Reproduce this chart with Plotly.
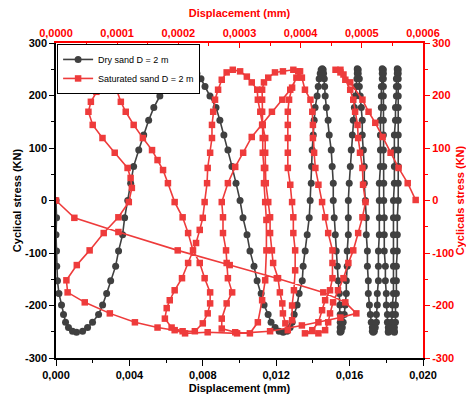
import plotly.graph_objects as go

# Dry sand: displacement in micrometres (bottom axis), cyclic stress in kN
dry_disp_um = [
    0.00, 0.03, 0.00, 0.03, 0.04, 0.08, 0.16, 0.30, 0.41, 0.52, 0.68, 0.90, 1.12,
    1.45, 1.72, 1.99, 2.32, 2.54, 2.76, 2.98, 3.25, 3.41, 3.63, 3.74, 3.91, 4.07, 4.23, 4.51, 4.78, 5.05, 5.33, 5.66, 5.98, 6.31, 6.64, 6.97, 7.19,
    7.46, 7.68, 7.90, 8.12, 8.39, 8.72, 8.93, 9.15, 9.37, 9.59, 9.81, 10.03, 10.19, 10.41, 10.57, 10.79, 10.96, 11.18, 11.34, 11.56, 11.72, 11.94, 12.16, 12.38,
    12.59, 12.76, 12.87, 12.98, 13.14, 13.25, 13.42, 13.47, 13.58, 13.69, 13.80, 13.85, 13.91, 13.93, 13.96, 14.02, 14.07, 14.12, 14.23, 14.29, 14.34, 14.40, 14.45, 14.51,
    14.56, 14.58, 14.62, 14.64, 14.67, 14.73, 14.83, 14.89, 15.00, 15.05, 15.11, 15.11, 15.16, 15.22, 15.27, 15.33, 15.38, 15.44, 15.47, 15.49, 15.49, 15.49, 15.49, 15.49,
    15.54, 15.60, 15.65, 15.71, 15.76, 15.82, 15.82, 15.87, 15.87, 15.93, 15.93, 15.93, 15.98, 16.04, 16.09, 16.15, 16.20, 16.26, 16.31, 16.36, 16.40, 16.42, 16.42, 16.42,
    16.47, 16.47, 16.53, 16.53, 16.58, 16.64, 16.69, 16.69, 16.75, 16.80, 16.80, 16.86, 16.91, 16.91, 16.97, 16.97, 17.02, 17.02, 17.08, 17.13, 17.18, 17.24, 17.24, 17.29,
    17.35, 17.40, 17.46, 17.46, 17.51, 17.51, 17.57, 17.57, 17.57, 17.62, 17.62, 17.62, 17.62, 17.68, 17.68, 17.68, 17.68, 17.73, 17.73, 17.73, 17.78, 17.78, 17.78, 17.78,
    17.84, 17.84, 17.84, 17.84, 17.84, 17.84, 17.84, 17.84, 17.84, 17.86, 17.86, 17.86, 17.89, 17.89, 17.89, 17.95, 17.95, 18.00, 18.00, 18.06, 18.06, 18.11, 18.11, 18.11,
    18.17, 18.22, 18.28, 18.33, 18.33, 18.39, 18.39, 18.39, 18.39, 18.39, 18.39, 18.39, 18.44, 18.44, 18.44, 18.44, 18.50, 18.50, 18.55, 18.55, 18.55, 18.60, 18.60, 18.60,
    18.65, 18.65, 18.65, 18.65, 18.65, 18.65, 18.65, 18.65, 18.65, 18.65, 18.65, 18.65, 18.60, 18.60, 18.60, 18.55, 18.55, 18.55, 18.50, 18.50, 18.50, 18.44, 18.44, 18.44,
]
dry_stress = [
    0, -33, -65, -96, -125, -153, -177, -199, -217, -232, -242, -249, -251,
    -249, -242, -232, -217, -199, -177, -153, -125, -96, -65, -33, 0, 33, 65, 96, 125, 153, 177, 199, 217, 232, 242, 249, 251,
    249, 242, 232, 217, 199, 177, 153, 125, 96, 65, 33, 0, -33, -65, -96, -125, -153, -177, -199, -217, -232, -242, -249, -251,
    -249, -242, -232, -217, -199, -177, -153, -125, -96, -65, -33, 0, 33, 65, 96, 125, 153, 177, 199, 217, 232, 242, 249, 251,
    249, 242, 232, 217, 199, 177, 153, 125, 96, 65, 33, 0, -33, -65, -96, -125, -153, -177, -199, -217, -232, -242, -249, -251,
    -249, -242, -232, -217, -199, -177, -153, -125, -96, -65, -33, 0, 33, 65, 96, 125, 153, 177, 199, 217, 232, 242, 249, 251,
    249, 242, 232, 217, 199, 177, 153, 125, 96, 65, 33, 0, -33, -65, -96, -125, -153, -177, -199, -217, -232, -242, -249, -251,
    -249, -242, -232, -217, -199, -177, -153, -125, -96, -65, -33, 0, 33, 65, 96, 125, 153, 177, 199, 217, 232, 242, 249, 251,
    249, 242, 232, 217, 199, 177, 153, 125, 96, 65, 33, 0, -33, -65, -96, -125, -153, -177, -199, -217, -232, -242, -249, -251,
    -249, -242, -232, -217, -199, -177, -153, -125, -96, -65, -33, 0, 33, 65, 96, 125, 153, 177, 199, 217, 232, 242, 249, 251,
    249, 242, 232, 217, 199, 177, 153, 125, 96, 65, 33, 0, -33, -65, -96, -125, -153, -177, -199, -217, -232, -242, -249, -251,
]

# Saturated sand: displacement in nanometres (top axis), cyclic stress in kN
sat_disp_nm = [
    0, 30, 102, 199, 284, 361, 437, 473, 491,
    465, 402, 350, 296, 248, 211, 194, 166, 129, 88, 47, 19,
    17, 34, 55, 78, 102, 119, 124, 122, 117, 96, 76, 60, 53, 57, 66, 76, 81, 88, 96,
    99, 106, 114, 127, 142, 157, 166, 175, 183, 194, 207, 216, 224, 235, 243, 252, 252, 248, 240, 227, 207, 189, 178,
    181, 186, 194, 206, 216, 229, 235, 240, 243, 247, 248, 252, 255, 255, 257, 260, 265, 271, 279, 289,
    301, 312, 320, 329, 330, 334, 338, 342, 342, 342, 343, 347, 350, 350, 353, 355, 363, 366, 370, 371, 375, 379,
    386, 386, 389, 391, 391, 388, 388, 386, 383, 379, 379, 379, 379, 379, 381, 386, 393, 399,
    383, 370, 353, 337, 320, 306, 293, 281, 271, 273, 273, 278, 279, 281, 288, 279, 271, 271,
    293, 317, 330, 337, 342, 344, 344, 342, 340, 340, 338, 338, 338, 337, 337, 337, 340, 347, 358, 371, 388, 396, 402,
    407, 416, 419, 420, 420, 422, 424, 429, 435, 440, 445, 452, 452, 452, 448, 440, 435, 429, 419, 407,
    429, 440, 445, 448, 453, 461, 470, 478, 486, 494, 501, 506, 502, 501, 497, 494, 493, 489, 486, 481, 473, 465, 457,
    465, 470, 481, 501, 511, 522, 534, 547, 560, 575, 588,
]
sat_stress = [
    0, -33, -60, -95, -123, -148, -175, -194, -215,
    -223, -238, -249, -253, -251, -253, -247, -242, -232, -215, -194, -175,
    -152, -123, -95, -62, -32, -3, 24, 43, 62, 91, 119, 144, 169, 188, 207, 226, 236, 244, 244,
    211, 188, 169, 144, 119, 96, 77, 58, 33, -3, -32, -62, -95, -119, -148, -175, -196, -215, -234, -249, -249, -242, -225,
    -205, -190, -171, -148, -119, -81, -56, -33, -3, 33, 62, 91, 119, 144, 169, 192, 211, 230, 244, 249,
    246, 236, 225, 211, 192, 169, 144, 119, 91, 62, 33, -3, -32, -62, -95, -119, -148, -175, -196, -215, -234, -247,
    -228, -200, -171, -133, -95, -62, -32, -3, 30, 62, 91, 119, 144, 169, 192, 215, 234, 246,
    211, 192, 169, 144, 121, 91, 64, 33, -3, -32, -62, -95, -119, -148, -175, -196, -225, -244,
    -251, -253, -232, -190, -152, -95, -37, -3, 33, 62, 91, 119, 144, 169, 192, 211, 225, 234, 244, 246, 249, 246, 234,
    211, 192, 169, 144, 119, 91, 62, 30, -3, -32, -62, -95, -119, -148, -171, -190, -209, -232, -247, -253,
    -253, -247, -232, -215, -194, -171, -148, -119, -95, -62, -32, -3, 30, 62, 91, 119, 144, 169, 192, 211, 230, 244, 249,
    249, 240, 225, 192, 169, 148, 121, 91, 62, 33, 1,
]

# Axis ticks
bottom_tick_vals = [0, 0.004, 0.008, 0.012, 0.016, 0.020]
bottom_tick_text = ["0,000", "0,004", "0,008", "0,012", "0,016", "0,020"]
top_tick_vals = [0, 0.0001, 0.0002, 0.0003, 0.0004, 0.0005, 0.0006]
top_tick_text = ["0,0000", "0,0001", "0,0002", "0,0003", "0,0004", "0,0005", "0,0006"]
stress_tick_vals = [-300, -200, -100, 0, 100, 200, 300]
stress_tick_text = ["-300", "-200", "-100", "0", "100", "200", "300"]

DRY = "#404040"
SAT = "#EE3B3B"
RED_AXIS = "#FF0000"
FONT = "Liberation Sans"

fig = go.Figure()
fig.add_trace(go.Scatter(
    x=[v / 1000.0 for v in dry_disp_um], y=dry_stress,
    mode="lines+markers", name="Dry sand D = 2 m",
    line=dict(color=DRY, width=1.6),
    marker=dict(symbol="circle", size=7, color=DRY),
    xaxis="x", yaxis="y",
))
fig.add_trace(go.Scatter(
    x=[v / 1e6 for v in sat_disp_nm], y=sat_stress,
    mode="lines+markers", name="Saturated sand D = 2 m",
    line=dict(color=SAT, width=1.6),
    marker=dict(symbol="square", size=6.5, color=SAT),
    xaxis="x2", yaxis="y2",
))

tick_font_black = dict(family=FONT, size=11, color="black", weight="bold")
tick_font_red = dict(family=FONT, size=11, color=RED_AXIS, weight="bold")

fig.update_layout(
    width=466, height=394,
    margin=dict(l=56, r=43, t=43, b=36, autoexpand=False),
    paper_bgcolor="white", plot_bgcolor="white",
    showlegend=True,
    legend=dict(
        x=0.003, y=0.997, xanchor="left", yanchor="top",
        bgcolor="white", bordercolor="black", borderwidth=1,
        font=dict(family=FONT, size=9, color="black"),
        tracegroupgap=0, itemwidth=30,
    ),
    xaxis=dict(
        range=[0, 0.02], tickvals=bottom_tick_vals, ticktext=bottom_tick_text,
        automargin=False,
        ticks="outside", ticklen=6, tickwidth=1.2, tickcolor="black",
        minor=dict(ticks="outside", ticklen=3, tickwidth=1.2, tickcolor="black", dtick=0.002),
        showline=True, linecolor="black", linewidth=1.5,
        showgrid=False, zeroline=False, tickfont=tick_font_black,
        title=dict(text="Displacement (mm)", font=tick_font_black, standoff=4),
    ),
    xaxis2=dict(
        overlaying="x", side="top", anchor="y", automargin=False,
        range=[0, 0.0006], tickvals=top_tick_vals, ticktext=top_tick_text,
        ticks="inside", ticklen=5, tickwidth=1.2, tickcolor=RED_AXIS,
        minor=dict(ticks="inside", ticklen=3, tickwidth=1.2, tickcolor=RED_AXIS, dtick=0.00005),
        showline=True, linecolor=RED_AXIS, linewidth=1.5,
        showgrid=False, zeroline=False, tickfont=tick_font_red,
        title=dict(text="Displacement (mm)", font=tick_font_red, standoff=7),
    ),
    yaxis=dict(
        range=[-300, 300], tickvals=stress_tick_vals, ticktext=stress_tick_text,
        automargin=False,
        ticks="outside", ticklen=5, tickwidth=1.2, tickcolor="black",
        minor=dict(ticks="outside", ticklen=3, tickwidth=1.2, tickcolor="black", dtick=50),
        showline=True, linecolor="black", linewidth=1.5,
        showgrid=False, zeroline=False, tickfont=tick_font_black,
        title=dict(text="Cyclical stress (KN)", font=tick_font_black, standoff=1),
    ),
    yaxis2=dict(
        overlaying="y", side="right", anchor="x", automargin=False,
        range=[-300, 300], tickvals=stress_tick_vals, ticktext=stress_tick_text,
        ticks="outside", ticklen=5, tickwidth=1.2, tickcolor=RED_AXIS,
        minor=dict(ticks="outside", ticklen=3, tickwidth=1.2, tickcolor=RED_AXIS, dtick=50),
        showline=True, linecolor=RED_AXIS, linewidth=2,
        showgrid=False, zeroline=False, tickfont=tick_font_red,
        title=dict(text="Cyclicals stress (KN)", font=tick_font_red, standoff=6),
    ),
)

fig.write_html("out.html")
